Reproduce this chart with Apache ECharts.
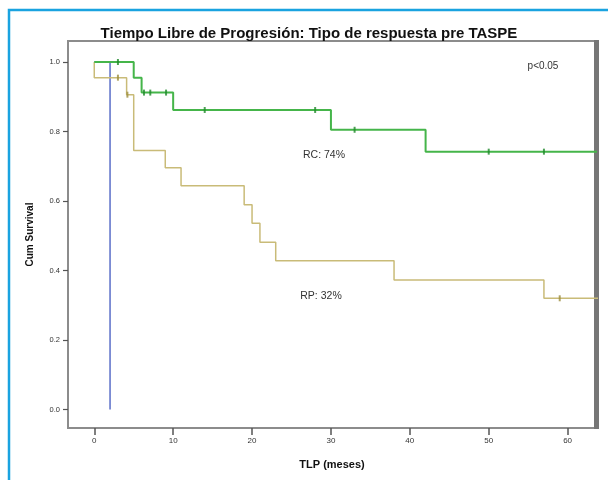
<!DOCTYPE html>
<html>
<head>
<meta charset="utf-8">
<script src="https://cdn.jsdelivr.net/npm/echarts@6/dist/echarts.min.js"></script>
<style>
  html, body { margin: 0; padding: 0; background: #fff; }
  #chart { width: 608px; height: 480px; }
</style>
</head>
<body>
<div id="chart"></div>
<script>
// RC group (complete response), KM steps
const rcTimes = [0, 5, 6, 10, 30, 42, 64];
const rcSurv = [1.0, 0.955, 0.912, 0.862, 0.805, 0.742, 0.742];
const rcCensored = [3, 6.3, 7.1, 9.1, 14, 28, 33, 50, 57];

// RP group (partial response)
const rpTimes = [0, 0, 4.1, 5, 9, 11, 19, 20, 21, 23, 38, 57, 64];
const rpSurv = [1.0, 0.955, 0.906, 0.745, 0.696, 0.644, 0.589, 0.536, 0.481, 0.428, 0.373, 0.320, 0.320];
const rpCensored = [3, 4.2, 59];

// single early progression
const otherTimes = [0, 2];
const otherSurv = [1.0, 0.0];

const xTicks = [0, 10, 20, 30, 40, 50, 60];
const yTicks = [0, 0.2, 0.4, 0.6, 0.8, 1.0];

const pairs = (t, s) => t.map((v, i) => [v, s[i]]);

// survival value at time t (value after any drop at that time)
const survAt = (times, surv, t) => {
  let s = surv[0];
  for (let i = 0; i < times.length; i++) {
    if (times[i] <= t) s = surv[i];
  }
  return s;
};

const chart = echarts.init(document.getElementById("chart"));

const option = {
  backgroundColor: "#fff",
  animation: false,
  title: {
    text: "Tiempo Libre de Progresión: Tipo de respuesta pre TASPE",
    left: 304,
    top: 21,
    textAlign: "center",
    textStyle: {
      fontFamily: "Liberation Sans",
      fontSize: 15,
      fontWeight: "bold",
      color: "#111"
    }
  },
  grid: {
    left: 68,
    right: 12,
    top: 41,
    bottom: 52,
    show: true,
    borderColor: "#8c8c8c",
    borderWidth: 2
  },
  xAxis: {
    type: "value",
    min: -3.33,
    max: 63.6,
    name: "TLP (meses)",
    nameLocation: "middle",
    nameGap: 31,
    nameTextStyle: {
      fontFamily: "Liberation Sans",
      fontSize: 11,
      fontWeight: "bold",
      color: "#111"
    },
    splitLine: { show: false },
    axisLine: { show: false, onZero: false },
    axisTick: {
      show: true,
      customValues: xTicks,
      length: 7,
      lineStyle: { color: "#555", width: 1.5 }
    },
    axisLabel: {
      customValues: xTicks,
      margin: 9,
      fontFamily: "Liberation Sans",
      fontSize: 8,
      color: "#333"
    }
  },
  yAxis: {
    type: "value",
    min: -0.0533,
    max: 1.0605,
    name: "Cum Survival",
    nameLocation: "middle",
    nameGap: 33,
    nameTextStyle: {
      fontFamily: "Liberation Sans",
      fontSize: 10,
      fontWeight: "bold",
      color: "#111"
    },
    splitLine: { show: false },
    axisLine: { show: false, onZero: false },
    axisTick: {
      show: true,
      customValues: yTicks,
      length: 5,
      lineStyle: { color: "#555", width: 1.2 }
    },
    axisLabel: {
      customValues: yTicks,
      margin: 8,
      fontFamily: "Liberation Sans",
      fontSize: 7.5,
      color: "#333",
      formatter: v => v.toFixed(1)
    }
  },
  graphic: [
    {
      type: "rect",
      shape: { x: 9, y: 10, width: 700, height: 600 },
      style: { fill: "none", stroke: "#1aa3e0", lineWidth: 2.5 },
      silent: true
    },
    {
      type: "rect",
      shape: { x: 594, y: 40, width: 5, height: 389 },
      style: { fill: "#767676" },
      silent: true
    },
    {
      type: "text",
      x: 543, y: 66,
      style: { text: "p<0.05", fontFamily: "Liberation Sans", fontSize: 10, fill: "#333", align: "center", verticalAlign: "middle" }
    },
    {
      type: "text",
      x: 324, y: 155,
      style: { text: "RC: 74%", fontFamily: "Liberation Sans", fontSize: 10.5, fill: "#333", align: "center", verticalAlign: "middle" }
    },
    {
      type: "text",
      x: 321, y: 296,
      style: { text: "RP: 32%", fontFamily: "Liberation Sans", fontSize: 10.5, fill: "#333", align: "center", verticalAlign: "middle" }
    }
  ],
  series: [
    {
      name: "otro",
      type: "line",
      step: "end",
      showSymbol: false,
      lineStyle: { color: "#5a6ec8", width: 1.5 },
      data: pairs(otherTimes, otherSurv),
      z: 1
    },
    {
      name: "RP",
      type: "line",
      step: "end",
      showSymbol: false,
      lineStyle: { color: "#c9bb78", width: 1.5 },
      data: pairs(rpTimes, rpSurv),
      z: 2
    },
    {
      name: "RC",
      type: "line",
      step: "end",
      showSymbol: false,
      lineStyle: { color: "#45b54a", width: 2 },
      data: pairs(rcTimes, rcSurv),
      z: 3
    },
    {
      name: "RP censored",
      type: "scatter",
      symbol: "rect",
      symbolSize: [2, 6],
      itemStyle: { color: "#9c8d3c" },
      data: rpCensored.map(t => [t, survAt(rpTimes, rpSurv, t)]),
      z: 4
    },
    {
      name: "RC censored",
      type: "scatter",
      symbol: "rect",
      symbolSize: [2, 6],
      itemStyle: { color: "#1f8a2a" },
      data: rcCensored.map(t => [t, survAt(rcTimes, rcSurv, t)]),
      z: 5
    }
  ]
};

chart.setOption(option);
</script>
</body>
</html>
